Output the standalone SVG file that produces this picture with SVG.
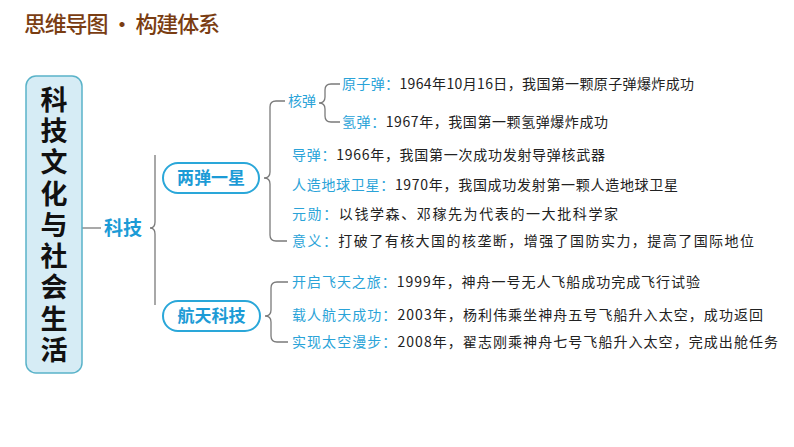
<svg xmlns="http://www.w3.org/2000/svg" width="794" height="447" viewBox="0 0 794 447">
<style>
.cjk{font-family:"Noto Sans CJK SC","Noto Sans",sans-serif}
.title{font-size:22px;font-weight:500;fill:#7a3d12}
.main{font-size:27px;font-weight:700;fill:#111;text-anchor:middle}
.lbl{font-size:19px;font-weight:700;fill:#1c9bd6}
.pilltxt{font-size:17px;font-weight:700;fill:#1c9bd6;text-anchor:middle}
.pill{fill:#fff;stroke:#2aa7d9;stroke-width:2}
.line{font-size:14px;fill:#222}
.key{fill:#2aa3d8}
.conn{fill:none;stroke:#7a7a7a;stroke-width:1.3}
</style>
<rect width="794" height="447" fill="#fff"/>
<g id="title"><text class="cjk title" x="24" y="32" textLength="196" lengthAdjust="spacing">思维导图 • 构建体系</text></g>

<g id="connectors">
<line class="conn" x1="82" y1="228" x2="101" y2="228"/>
<path class="conn" d="M155,155 L155,222 Q155,228 150,228 Q155,228 155,234 L155,305"/>
<path class="conn" d="M285,101 L276,101 Q270,101 270,107 L270,172 Q270,178 264,178 Q270,178 270,184 L270,235 Q270,241 276,241 L287,241"/>
<path class="conn" d="M340,84 L331,84 Q325,84 325,90 L325,97 Q325,103 319,103 Q325,103 325,109 L325,116 Q325,122 331,122 L340,122"/>
<path class="conn" d="M288,282 L277,282 Q271,282 271,288 L271,310 Q271,316 265,316 Q271,316 271,322 L271,336 Q271,342 277,342 L288,342"/>
</g>

<g id="root">
<rect x="26" y="76" width="56" height="297" rx="10" fill="#d6ecf5" stroke="#5ab3c9" stroke-width="1.5"/>
<text class="cjk main">
<tspan x="54" y="110">科</tspan><tspan x="54" y="141">技</tspan><tspan x="54" y="172">文</tspan><tspan x="54" y="204">化</tspan><tspan x="54" y="235">与</tspan><tspan x="54" y="266">社</tspan><tspan x="54" y="297">会</tspan><tspan x="54" y="329">生</tspan><tspan x="54" y="360">活</tspan>
</text>
</g>

<g id="keji"><text class="cjk lbl" x="104" y="235">科技</text></g>

<g id="liangdan">
<rect class="pill" x="163" y="163" width="96" height="30" rx="15"/>
<text class="cjk pilltxt" x="211" y="184">两弹一星</text>
</g>

<g id="hangtian">
<rect class="pill" x="163" y="301" width="97" height="30" rx="15"/>
<text class="cjk pilltxt" x="211.5" y="322">航天科技</text>
</g>

<g id="hedan"><text class="cjk line key" x="288" y="106">核弹</text></g>

<g id="yuanzidan"><text class="cjk line" x="342" y="89" textLength="352" lengthAdjust="spacing"><tspan class="key">原子弹：</tspan>1964年10月16日，我国第一颗原子弹爆炸成功</text></g>
<g id="qingdan"><text class="cjk line" x="342" y="127" textLength="266" lengthAdjust="spacing"><tspan class="key">氢弹：</tspan>1967年，我国第一颗氢弹爆炸成功</text></g>
<g id="daodan"><text class="cjk line" x="292" y="160" textLength="313" lengthAdjust="spacing"><tspan class="key">导弹：</tspan>1966年，我国第一次成功发射导弹核武器</text></g>
<g id="weixing"><text class="cjk line" x="292" y="190" textLength="386" lengthAdjust="spacing"><tspan class="key">人造地球卫星：</tspan>1970年，我国成功发射第一颗人造地球卫星</text></g>
<g id="yuanxun"><text class="cjk line" x="292" y="219" textLength="326" lengthAdjust="spacing"><tspan class="key">元勋：</tspan>以钱学森、邓稼先为代表的一大批科学家</text></g>
<g id="yiyi"><text class="cjk line" x="292" y="246" textLength="462" lengthAdjust="spacing"><tspan class="key">意义：</tspan>打破了有核大国的核垄断，增强了国防实力，提高了国际地位</text></g>
<g id="feitian"><text class="cjk line" x="292" y="287" textLength="408" lengthAdjust="spacing"><tspan class="key">开启飞天之旅：</tspan>1999年，神舟一号无人飞船成功完成飞行试验</text></g>
<g id="zairen"><text class="cjk line" x="292" y="320" textLength="471" lengthAdjust="spacing"><tspan class="key">载人航天成功：</tspan>2003年，杨利伟乘坐神舟五号飞船升入太空，成功返回</text></g>
<g id="manbu"><text class="cjk line" x="292" y="347" textLength="486" lengthAdjust="spacing"><tspan class="key">实现太空漫步：</tspan>2008年，翟志刚乘神舟七号飞船升入太空，完成出舱任务</text></g>
</svg>
